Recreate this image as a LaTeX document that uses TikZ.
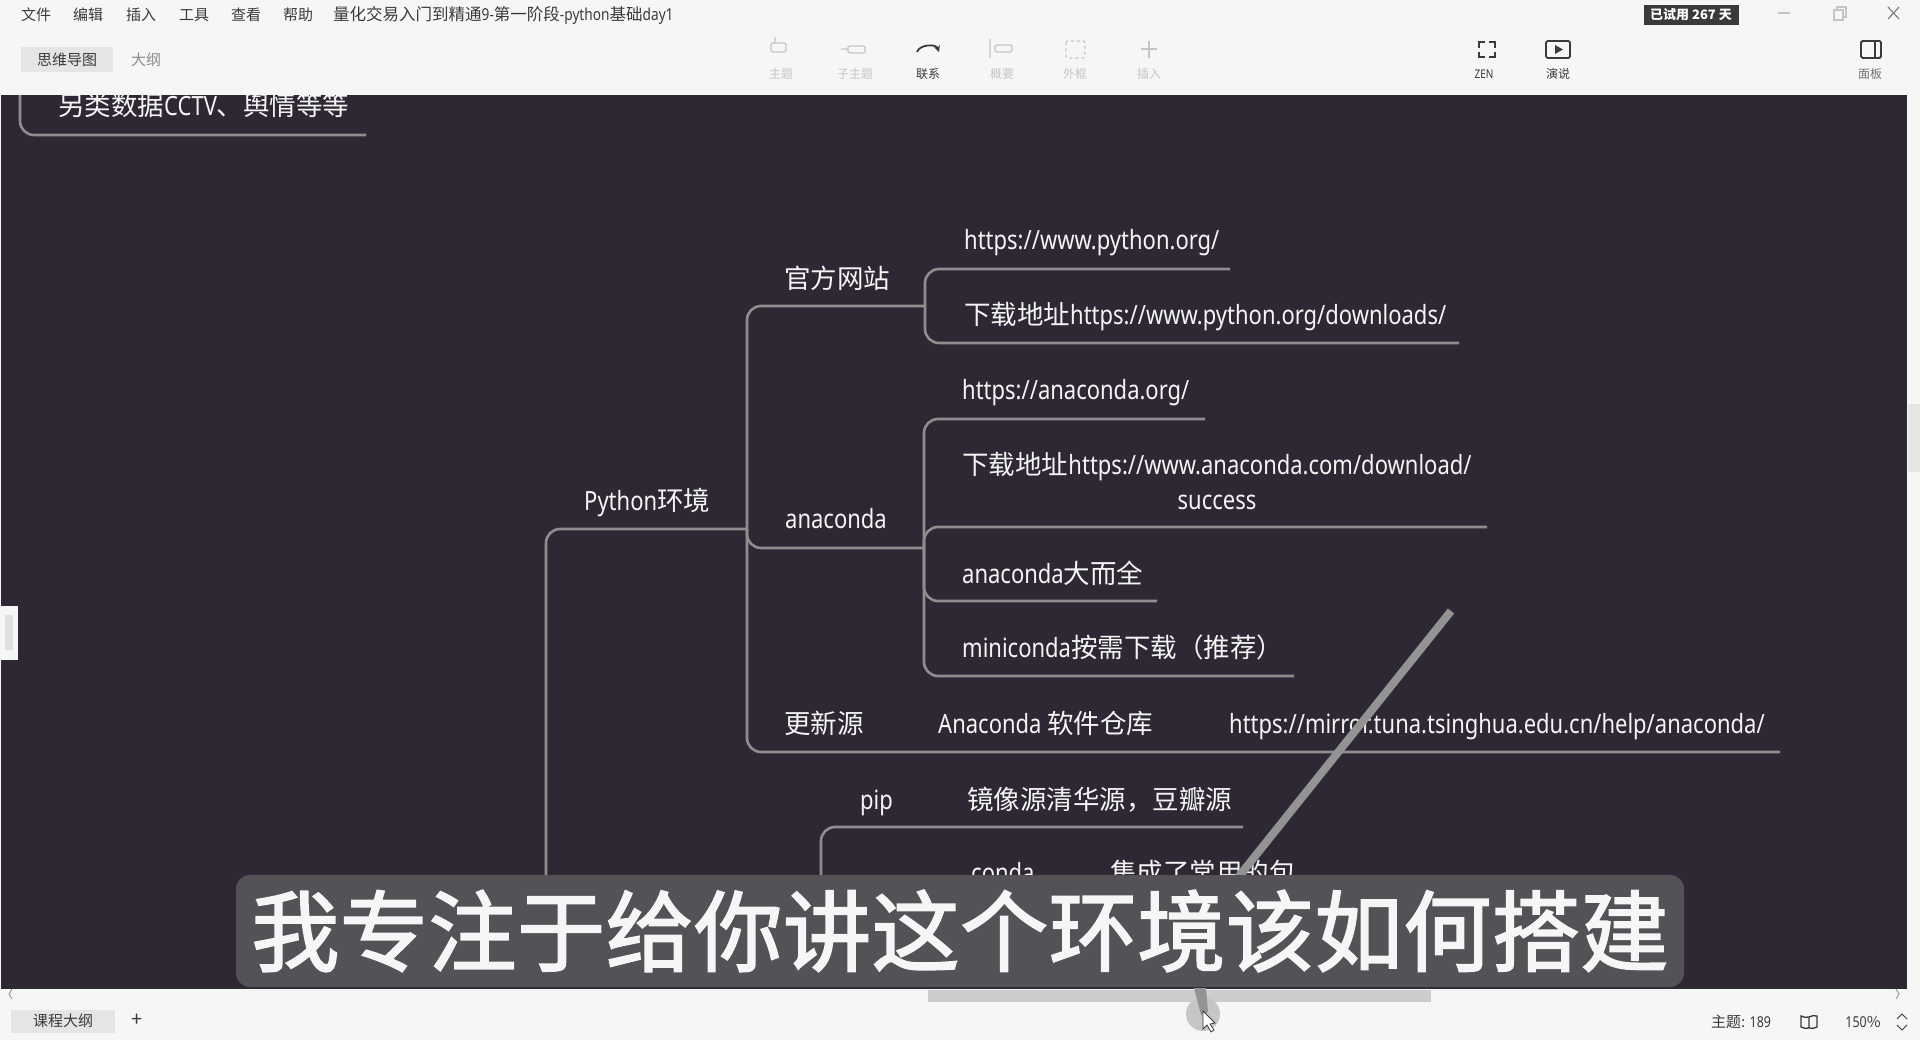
\documentclass[tikz,border=0pt]{standalone}
\usepackage{fontspec}
\usepackage{xcolor}
\usetikzlibrary{shapes,arrows,positioning,calc}
\setmainfont{Noto Sans CJK SC}
\newfontfamily\latn[FakeStretch=0.83]{Noto Sans}
\newfontfamily\subfont[LetterSpace=0.7,FakeBold=2]{Noto Sans CJK SC}
\definecolor{canvas}{HTML}{2D2833}
\definecolor{barbg}{HTML}{F4F7F6}
\definecolor{branchline}{HTML}{8E8E8E}
\definecolor{mmwhite}{HTML}{F5F5F5}
\definecolor{subbg}{HTML}{545257}
\definecolor{uidark}{HTML}{3A3A3A}
\definecolor{uifaint}{HTML}{C4C6C6}
\tikzset{
    mmtext/.style={anchor=west,inner sep=0pt,text=mmwhite,font=\fontsize{26.5}{35}\selectfont,text height=25pt,text depth=6pt},
    branch/.style={draw=branchline,line width=2.6pt,rounded corners=14pt},
    uitext/.style={inner sep=0pt,text=uidark,font=\fontsize{15}{18}\selectfont},
    uifaded/.style={uitext,text=uifaint,font=\fontsize{12}{14}\selectfont},
    uilabel/.style={uitext,font=\fontsize{12}{14}\selectfont},
    iconfaint/.style={draw=uifaint,line width=1.4pt,rounded corners=1.5pt},
    icondark/.style={draw=uidark,line width=1.8pt},
}
\begin{document}
\begin{tikzpicture}[x=1pt,y=-1pt]
    \useasboundingbox (0,0) rectangle (1920,1040);
    \fill[barbg] (0,0) rectangle (1920,1040);
    \fill[canvas] (1,95) rectangle (1907,989);

    % Cut-off topic at the top
    \node[mmtext] (altdata) at (58,106) {另类数据{\latn CCTV}、舆情等等};
    \coordinate (altTop) at (20,90);
    \coordinate (altEnd) at (366,135);
    \draw[branch] (altTop) |- (altEnd);

    % Python branch
    \node[mmtext] (python) at (584,501) {{\latn Python}环境};
    \coordinate (rootDown) at (546,890);
    \coordinate (jPython) at (747,529);
    \draw[branch] (rootDown) |- (jPython);

    % Official site
    \node[mmtext] (official) at (784,279) {官方网站};
    \coordinate (jOfficial) at (925,306);
    \draw[branch] (jPython) |- (jOfficial);
    \node[mmtext] (pyorg) at (964,240) {\latn https://www.python.org/};
    \coordinate (pyorgEnd) at (1230,269);
    \draw[branch] (jOfficial) |- (pyorgEnd);
    \node[mmtext] (pydown) at (964,315) {下载地址{\latn https://www.python.org/downloads/}};
    \coordinate (pydownEnd) at (1459,343);
    \draw[branch] (jOfficial) |- (pydownEnd);

    % Anaconda
    \node[mmtext] (anaconda) at (785,519) {\latn anaconda};
    \coordinate (jAnaconda) at (924,548);
    \draw[branch] (jPython) |- (jAnaconda);
    \node[mmtext] (anaorg) at (962,390) {\latn https://anaconda.org/};
    \coordinate (anaorgEnd) at (1205,419);
    \draw[branch] (jAnaconda) |- (anaorgEnd);
    \node[inner sep=0pt,text=mmwhite,align=center,font=\fontsize{26.5}{35}\selectfont] (anadown) at (1217,481) {下载地址{\latn https://www.anaconda.com/download/}\\{\latn success}};
    \coordinate (anadownEnd) at (1487,527);
    \draw[branch] (jAnaconda) |- (anadownEnd);
    \node[mmtext] (anafull) at (962,574) {{\latn anaconda}大而全};
    \coordinate (anafullEnd) at (1157,601);
    \draw[branch] (jAnaconda) |- (anafullEnd);
    \node[mmtext] (minicon) at (962,648) {{\latn miniconda}按需下载（推荐）};
    \coordinate (miniconEnd) at (1294,676);
    \draw[branch] (jAnaconda) |- (miniconEnd);

    % Update source
    \node[mmtext] (update) at (784,724) {更新源};
    \node[mmtext] (repo) at (938,724) {{\latn Anaconda} 软件仓库};
    \node[mmtext] (mirror) at (1229,724) {\latn https://mirror.tuna.tsinghua.edu.cn/help/anaconda/};
    \coordinate (mirrorEnd) at (1780,752);
    \draw[branch] (jPython) |- (mirrorEnd);

    % Pip and conda
    \node[mmtext] (pip) at (860,800) {\latn pip};
    \node[mmtext] (pipsrc) at (967,800) {镜像源清华源，豆瓣源};
    \coordinate (pipDown) at (821,890);
    \coordinate (pipEnd) at (1243,827);
    \draw[branch] (pipDown) |- (pipEnd);
    \node[mmtext] (conda) at (971,873) {\latn conda};
    \node[mmtext] (condapkg) at (1110,873) {集成了常用的包};

    % Pointer trail
    \draw[line width=8pt,color=gray!85] (1451,611) -- (1236,880);

    % Caption
    \node[rectangle,fill=subbg,rounded corners=14pt,minimum width=1448pt,minimum height=112pt,inner sep=0pt,text=barbg,font=\subfont\fontsize{88}{100}\selectfont] (caption) at (960,931) {我专注于给你讲这个环境该如何搭建};

    % Top bar
    \fill[barbg] (0,0) rectangle (1920,95);
    \node[uitext] (mfile) at (36,15) {文件};
    \node[uitext] (medit) at (88,15) {编辑};
    \node[uitext] (minsert) at (141,15) {插入};
    \node[uitext] (mtools) at (194,15) {工具};
    \node[uitext] (mview) at (246,15) {查看};
    \node[uitext] (mhelp) at (298,15) {帮助};
    \node[uitext,anchor=west,font=\fontsize{16.5}{18}\selectfont] (title) at (333,15) {量化交易入门到精通{\latn 9-}第一阶段{\latn -python}基础{\latn day1}};
    \node[uitext,fill=black!10,minimum width=92pt,minimum height=25pt] (mindtab) at (67,60) {思维导图};
    \node[uitext,text=black!45] (outline) at (146,60) {大纲};

    % Toolbar icons
    \draw[iconfaint] (771,43) rectangle (786,52) (775,43) -- (775,37);
    \draw[iconfaint] (848,46) rectangle (865,53) (841,49) -- (848,49);
    \draw[icondark,->,>=stealth] (917,52) to[bend left=70] (939,52);
    \draw[iconfaint] (995,45) rectangle (1012,52) (990,39) -- (990,58);
    \draw[iconfaint,dashed] (1066,41) rectangle (1085,58);
    \draw[iconfaint] (1149,41) -- (1149,58) (1141,49) -- (1157,49);
    \node[uifaded] (lbltopic) at (781,74) {主题};
    \node[uifaded] (lblsub) at (855,74) {子主题};
    \node[uilabel] (lbllink) at (928,74) {联系};
    \node[uifaded] (lblsum) at (1002,74) {概要};
    \node[uifaded] (lblbox) at (1075,74) {外框};
    \node[uifaded] (lblins) at (1149,74) {插入};
    \draw[icondark] (1479,48) -- (1479,42) -- (1485,42) (1489,42) -- (1495,42) -- (1495,48)
        (1495,52) -- (1495,57) -- (1489,57) (1485,57) -- (1479,57) -- (1479,52);
    \draw[icondark,rounded corners=2pt] (1546,41) rectangle (1570,58);
    \fill[uidark] (1555,45) -- (1563,49.5) -- (1555,54) -- cycle;
    \node[uilabel] (lblzen) at (1484,74) {\latn ZEN};
    \node[uilabel] (lblshow) at (1558,74) {演说};
    \draw[icondark,rounded corners=1.5pt] (1861,41) rectangle (1881,58) (1875,41) -- (1875,58);
    \node[uifaded,text=black!55] (lblpanel) at (1870,74) {面板};

    % Trial badge and window buttons
    \node[fill=uidark,text=white,inner sep=0pt,minimum width=95pt,minimum height=20pt,font=\bfseries\fontsize{13}{15}\selectfont] (trial) at (1691,15) {已试用 {\bfseries 267} 天};
    \draw[uifaint,line width=1.2pt] (1778,13) -- (1790,13);
    \draw[uifaint,line width=1.2pt] (1834,10) rectangle (1843,20) (1837,10) -- (1837,7) -- (1846,7) -- (1846,17) -- (1843,17);
    \draw[black!50,line width=1.2pt] (1888,7) -- (1899,19) (1899,7) -- (1888,19);

    % Side handles
    \fill[barbg] (0,606) rectangle (18,660);
    \fill[black!12] (5,615) rectangle (13,650);
    \fill[black!10] (1908,404) rectangle (1920,472);

    % Bottom bar
    \fill[black!20] (928,990) rectangle (1431,1002);
    \node[uitext,fill=black!10,minimum width=104pt,minimum height=23pt] (coursetab) at (63,1021) {课程大纲};
    \node[uitext,font=\fontsize{20}{22}\selectfont] (addtab) at (137,1020) {+};
    \node[uitext] (count) at (1741,1022) {主题: {\latn 189}};
    \draw[uidark,line width=1.3pt] (1809,1028) -- (1809,1017) to[bend left=20] (1801,1016) -- (1801,1027) to[bend right=20] (1809,1028)
        to[bend right=20] (1817,1027) -- (1817,1016) to[bend right=20] (1809,1017);
    \node[uitext] (zoomlevel) at (1863,1022) {{\latn 150}\%};
    \draw[uidark,line width=1pt] (1897,1019) -- (1902,1014) -- (1907,1019) (1897,1025) -- (1902,1030) -- (1907,1025);
    \draw[black!45,line width=.8pt] (12,989) -- (9,994) -- (12,999) (1896,989) -- (1899,994) -- (1896,999);

    % Cursor smudge
    \fill[gray!45] (1203,1014) ellipse (17pt and 17pt);
    \fill[gray!85] (1194,988) -- (1206,988) -- (1208,1012) -- (1201,1015) -- cycle;
    \draw[uidark,fill=white,line width=.8pt] (1203,1011) -- (1203,1029) -- (1207,1025) -- (1211,1032) -- (1214,1030) -- (1210,1024) -- (1215,1023) -- cycle;
\end{tikzpicture}
\end{document}
